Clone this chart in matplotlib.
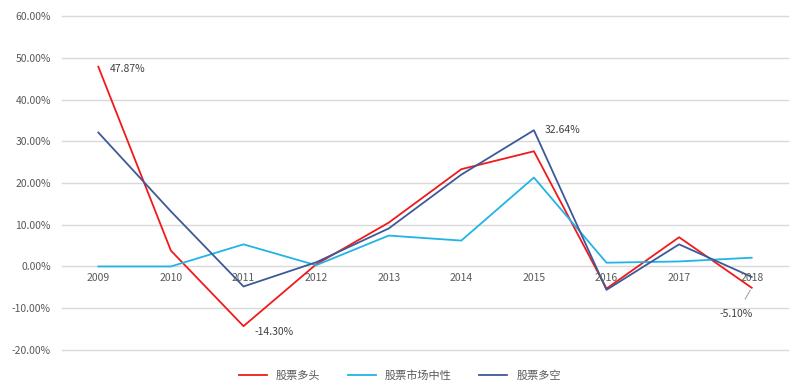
import matplotlib
matplotlib.use("Agg")
import matplotlib.pyplot as plt
from matplotlib.ticker import FuncFormatter

plt.rcParams['font.family'] = ['Noto Sans CJK SC', 'DejaVu Sans']

years = ['2009', '2010', '2011', '2012', '2013', '2014', '2015', '2016', '2017', '2018']
long_only = [47.87, 3.8, -14.30, 0.5, 10.5, 23.3, 27.6, -5.3, 7.0, -5.10]
market_neutral = [0.0, 0.0, 5.3, 0.3, 7.4, 6.2, 21.3, 0.9, 1.2, 2.1]
long_short = [32.1, 13.2, -4.8, 1.0, 9.1, 22.0, 32.64, -5.6, 5.3, -2.5]
names = ['股票多头', '股票市场中性', '股票多空']

fig = plt.figure(figsize=(8, 3.91), dpi=100)
ax = fig.add_axes([0.0775, 0.105, 0.9075, 0.854])

x = list(range(len(years)))
ax.plot(x, long_only, color='#F01A1A', lw=1.3, label=names[0])
ax.plot(x, market_neutral, color='#21B4E6', lw=1.3, label=names[1])
ax.plot(x, long_short, color='#3D5A98', lw=1.3, label=names[2])

ax.set_xlim(-0.5, len(years) - 0.5)
ax.set_ylim(-20, 60)
ax.set_yticks(range(-20, 61, 10))
ax.yaxis.set_major_formatter(FuncFormatter(lambda v, p: f'{v:.2f}%'))
ax.set_xticks([])
ax.grid(axis='y', color='#D9D9D9', lw=1)
for g in ax.get_ygridlines():
    g.set_clip_on(False)
ax.set_axisbelow(True)
for s in ax.spines.values():
    s.set_visible(False)
ax.tick_params(length=0, colors='#595959', labelsize=7.5)
ax.tick_params(axis='y', pad=8)

# year labels sit just under the zero line
for i in x:
    ax.text(i, -2.8, years[i], ha='center', va='center', fontsize=7.5, color='#595959')

tc = '#404040'
ax.annotate(f'{long_only[0]:.2f}%', (0, long_only[0]), xytext=(8, -2), textcoords='offset points',
            fontsize=7.5, color=tc, va='center')
ax.annotate(f'{long_short[6]:.2f}%', (6, long_short[6]), xytext=(8, 0), textcoords='offset points',
            fontsize=7.5, color=tc, va='center')
ax.annotate(f'{long_only[2]:.2f}%', (2, long_only[2]), xytext=(8, -4), textcoords='offset points',
            fontsize=7.5, color=tc, va='center')
ax.annotate(f'{long_only[9]:.2f}%', (9, long_only[9]), xytext=(-11, -19), textcoords='offset points',
            fontsize=7.5, color=tc, va='center', ha='center',
            arrowprops=dict(arrowstyle='-', color='#A6A6A6', lw=0.8, shrinkA=6, shrinkB=2))

fig.legend(loc='lower center', bbox_to_anchor=(0.5, 0.0), ncol=3, frameon=False,
           fontsize=8, labelcolor='#595959', handlelength=2.5, columnspacing=2.5)

fig.savefig('out.png', dpi=100, facecolor='white')
